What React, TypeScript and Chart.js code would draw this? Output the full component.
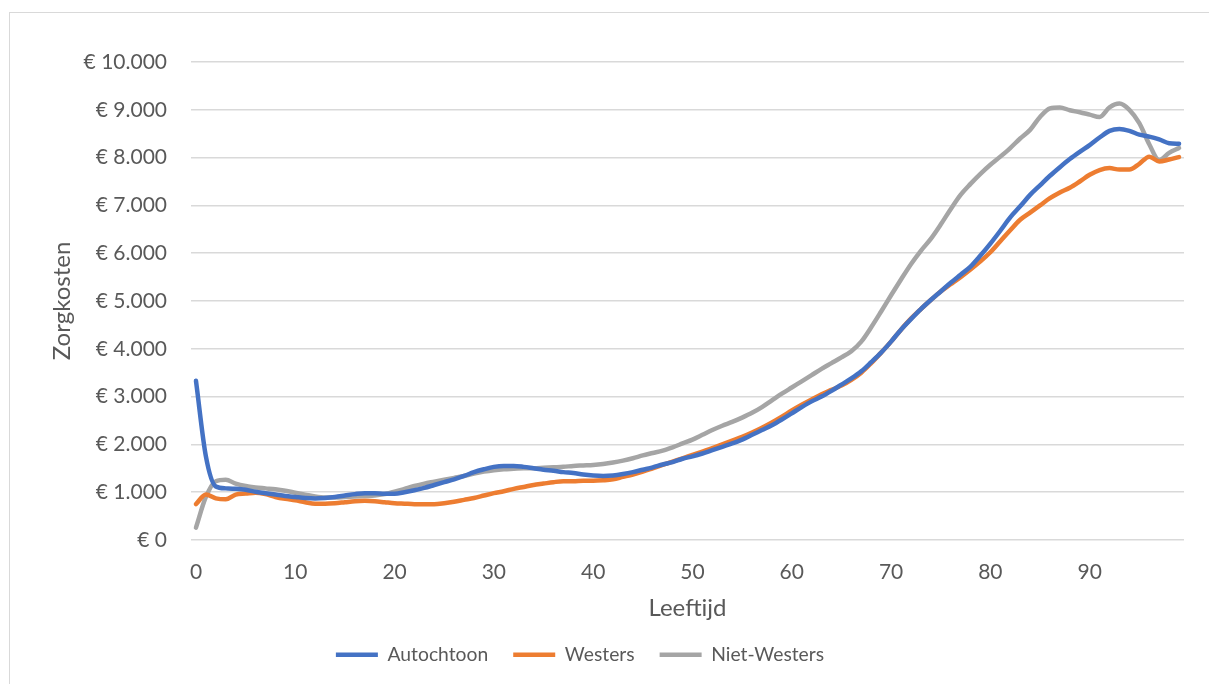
import React, { useEffect, useRef } from "react";
import { Chart, registerables } from "chart.js";

Chart.register(...registerables);

const ages: number[] = Array.from({ length: 100 }, (_, i) => i);

const autochtoon: number[] = [
  3330, 1750, 1120, 1080, 1070, 1050, 1010, 980, 950, 920,
  900, 880, 870, 880, 900, 930, 960, 980, 980, 970,
  970, 1000, 1040, 1090, 1150, 1210, 1270, 1340, 1420, 1480,
  1530, 1550, 1550, 1530, 1500, 1470, 1450, 1420, 1400, 1370,
  1350, 1340, 1350, 1380, 1420, 1470, 1520, 1580, 1630, 1700,
  1750, 1810, 1880, 1950, 2020, 2100, 2200, 2300, 2400, 2520,
  2650, 2780, 2900, 3000, 3120, 3250, 3380, 3530, 3720, 3920,
  4150, 4400, 4620, 4830, 5020, 5200, 5380, 5550, 5720, 5950,
  6200, 6470, 6750, 6980, 7220, 7420, 7620, 7800, 7970, 8120,
  8260, 8420, 8560, 8600, 8560, 8480, 8440, 8380, 8300, 8290,
];

const westers: number[] = [
  750, 950, 870, 850, 950, 970, 990, 960, 900, 860,
  830, 790, 760, 760, 770, 790, 810, 820, 810, 790,
  770, 760, 750, 750, 750, 770, 800, 840, 880, 930,
  980, 1020, 1070, 1110, 1150, 1180, 1210, 1230, 1230, 1240,
  1240, 1250, 1270, 1320, 1370, 1430, 1500, 1570, 1640, 1710,
  1780, 1850, 1920, 2000, 2080, 2160, 2250, 2350, 2460, 2580,
  2710, 2830, 2940, 3050, 3140, 3230, 3350, 3500, 3700, 3920,
  4150, 4400, 4630, 4830, 5020, 5200, 5350, 5500, 5660, 5830,
  6020, 6250, 6480, 6700, 6850, 7000, 7150, 7270, 7370, 7500,
  7640, 7740, 7780, 7750, 7750, 7870, 8020, 7920, 7960, 8010,
];

const nietWesters: number[] = [
  260, 900, 1230, 1260, 1180, 1130, 1100, 1080, 1060, 1030,
  990, 950, 910, 890, 890, 900, 910, 920, 930, 960,
  1010, 1070, 1130, 1180, 1220, 1260, 1300, 1340, 1390, 1430,
  1460, 1480, 1490, 1500, 1500, 1510, 1520, 1530, 1550, 1560,
  1570, 1590, 1620, 1660, 1710, 1770, 1820, 1870, 1940, 2020,
  2100, 2200, 2300, 2390, 2470, 2560, 2660, 2780, 2920, 3060,
  3190, 3320, 3450, 3580, 3700, 3820, 3950, 4150, 4450, 4780,
  5120, 5450, 5770, 6050, 6300, 6600, 6920, 7220, 7450, 7660,
  7850, 8020, 8200, 8400, 8580, 8850, 9030, 9050, 8990, 8950,
  8900, 8850, 9050, 9130, 9000, 8720, 8280, 7950, 8100, 8200,
];

const xTickValues: number[] = [0, 10, 20, 30, 40, 50, 60, 70, 80, 90];
const yTickValues: number[] = [0, 1000, 2000, 3000, 4000, 5000, 6000, 7000, 8000, 9000, 10000];

const seriesNames = ["Autochtoon", "Westers", "Niet-Westers"];
const seriesColors = ["#4472C4", "#ED7D31", "#A5A5A5"];

const FONT = "Lato, 'Liberation Sans', sans-serif";
const TEXT = "#595959";

function euro(v: number): string {
  const s = Math.round(v).toString().replace(/\B(?=(\d{3})+(?!\d))/g, ".");
  return "€ " + s;
}

const legendShift = {
  id: "legendShift",
  afterLayout(chart: any) {
    const lg = chart.legend;
    if (lg) {
      lg.left -= 32;
      lg.right -= 32;
    }
  },
};

export default function App() {
  const ref = useRef<HTMLCanvasElement | null>(null);

  useEffect(() => {
    if (!ref.current) return;
    const series = [autochtoon, westers, nietWesters];
    const chart = new Chart(ref.current, {
      type: "line",
      data: {
        datasets: series.map((vals, i) => ({
          label: seriesNames[i],
          data: ages.map((a, j) => ({ x: a, y: vals[j] })),
          borderColor: seriesColors[i],
          backgroundColor: seriesColors[i],
          borderWidth: 4.5,
          borderCapStyle: "round" as const,
          borderJoinStyle: "round" as const,
          pointRadius: 0,
          pointStyle: "line" as const,
          cubicInterpolationMode: "monotone" as const,
        })),
      },
      plugins: [legendShift],
      options: {
        animation: false,
        responsive: false,
        maintainAspectRatio: false,
        layout: { padding: { left: 40, right: 25, top: 62, bottom: 0 } },
        plugins: {
          tooltip: { enabled: false },
          legend: {
            position: "bottom",
            labels: {
              usePointStyle: true,
              pointStyleWidth: 42,
              padding: 25,
              color: TEXT,
              font: { family: FONT, size: 19.3 },
            },
          },
        },
        scales: {
          x: {
            type: "linear",
            min: -0.5,
            max: 99.5,
            afterBuildTicks: (scale: any) => {
              scale.ticks = xTickValues.map((v) => ({ value: v }));
            },
            afterFit: (scale: any) => {
              scale.height = 80;
            },
            grid: { display: false, drawTicks: false },
            border: { display: false },
            ticks: {
              color: TEXT,
              font: { family: FONT, size: 21 },
              padding: 20,
              maxRotation: 0,
              autoSkip: false,
            },
            title: {
              display: true,
              text: "Leeftijd",
              color: TEXT,
              font: { family: FONT, size: 24 },
              padding: { top: 0, bottom: -3 },
            },
          },
          y: {
            type: "linear",
            min: 0,
            max: 10000,
            afterBuildTicks: (scale: any) => {
              scale.ticks = yTickValues.map((v) => ({ value: v }));
            },
            afterFit: (scale: any) => {
              scale.width = 191 - 40;
            },
            grid: { color: "#D9D9D9", lineWidth: 1.5, drawTicks: false },
            border: { display: false },
            ticks: {
              color: TEXT,
              font: { family: FONT, size: 21 },
              padding: 24,
              callback: (v: any) => euro(Number(v)),
            },
            title: {
              display: true,
              text: "Zorgkosten",
              color: TEXT,
              font: { family: FONT, size: 24 },
              padding: { top: 7.6, bottom: 0 },
            },
          },
        },
      },
    });
    const lg: any = chart.legend;
    if (lg) {
      const origFit = lg.fit.bind(lg);
      lg.fit = function () {
        origFit();
        this.height = 64;
      };
      chart.update();
    }
    return () => chart.destroy();
  }, []);

  return (
    <div style={{ position: "absolute", left: 0, top: 0, width: 1209, height: 684, background: "#fff", overflow: "hidden" }}>
      <div
        style={{
          position: "absolute",
          left: 9,
          top: 12,
          width: 1200,
          height: 672,
          borderLeft: "1.5px solid #D9D9D9",
          borderTop: "1.5px solid #D9D9D9",
          boxSizing: "border-box",
        }}
      />
      <canvas ref={ref} width={1209} height={684} style={{ position: "absolute", left: 0, top: 0 }} />
    </div>
  );
}
